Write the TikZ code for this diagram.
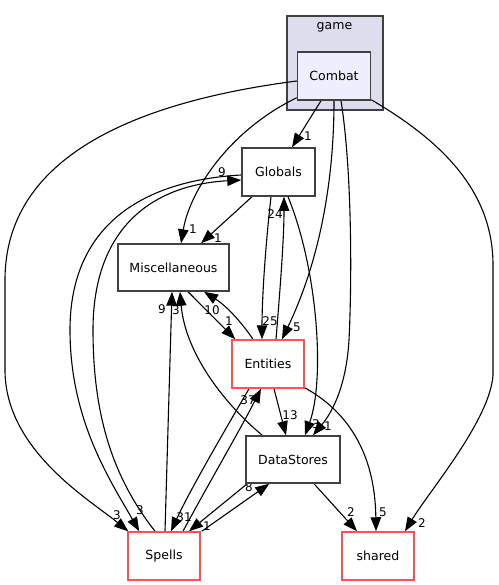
\documentclass[tikz,border=0pt]{standalone}
\usepackage{fontspec}
\setmainfont{DejaVu Sans}
\usetikzlibrary{arrows.meta,calc}
\pgfdeclarelayer{clusterlayer}
\pgfdeclarelayer{edgelayer}
\pgfsetlayers{clusterlayer,edgelayer,main}
\definecolor{nodegray}{HTML}{404040}
\definecolor{nodered}{HTML}{FF5050}
\definecolor{clusterfill}{HTML}{DDDDEE}
\definecolor{combatfill}{HTML}{EEEEFF}
\begin{document}
\begin{tikzpicture}[x=1bp,y=-1bp,
 dirbox/.style={draw=nodegray,line width=1.5bp,fill=white,minimum height=48bp,inner sep=0pt,font=\fontsize{12.6}{14}\selectfont},
 redbox/.style={dirbox,draw=nodered},
 dep/.style={draw=black,line width=1.1bp,-{Triangle[length=14bp,width=10.5bp]}},
 lbl/.style={inner sep=0pt,font=\fontsize{12}{13}\selectfont}
]
\useasboundingbox (0,0) rectangle (499,585);

% nodes
\node[dirbox,fill=combatfill,minimum width=73bp] (combat) at (334,76) {Combat};
\node[dirbox,minimum width=73bp] (globals) at (278.5,172) {Globals};
\node[dirbox,minimum width=111bp,minimum height=47bp] (misc) at (173.5,267.5) {Miscellaneous};
\node[redbox,minimum width=72bp] (entities) at (268,364) {Entities};
\node[dirbox,minimum width=94bp,minimum height=47bp] (datastores) at (293,459.5) {DataStores};
\node[redbox,minimum width=72bp] (spells) at (164,556) {Spells};
\node[redbox,minimum width=72bp] (shared) at (378,556) {shared};

\begin{pgfonlayer}{clusterlayer}
\node[draw=nodegray,fill=clusterfill,line width=1.3bp,minimum width=96bp,minimum height=94bp,inner sep=0pt] (game) at (335,63) {};
\node[font=\fontsize{12.6}{14}\selectfont,inner sep=0pt] (gametitle) at (334.5,27) {game};
\end{pgfonlayer}

\begin{pgfonlayer}{edgelayer}
% Combat -> Globals
\draw[dep] ($(combat.south)+(-13,0)$) -- ($(globals.north)+(13.5,0)$);
\node[lbl] (l1) at (308,136) {1};
% Combat -> Miscellaneous
\draw[dep] ($(combat.south west)+(0,-3)$) .. controls (230,130) and (190,190) .. ($(misc.north)+(7.5,0)$);
\node[lbl] (l2) at (193,229) {1};
% Combat -> Spells
\draw[dep] ($(combat.west)+(0,5)$) .. controls (150,100) and (5,150) .. (5,280) -- (5,370) .. controls (5,450) and (90,500) .. ($(spells.north west)+(1,0)$);
\node[lbl] (l3) at (117,515) {3};
% Combat -> Entities
\draw[dep] (combat.south) .. controls (334,180) and (320,260) .. ($(entities.north)+(14,0)$);
\node[lbl] (l4) at (297,327) {5};
% Combat -> DataStores
\draw[dep] ($(combat.south)+(7,0)$) .. controls (352,170) and (352,280) .. (349,340) .. controls (346,390) and (330,415) .. ($(datastores.north)+(20,0)$);
\node[lbl] (l5) at (328,426) {1};
% Combat -> shared
\draw[dep] ($(combat.south east)+(0,-1)$) .. controls (440,140) and (493,190) .. (493,265) -- (493,375) .. controls (490,420) and (430,490) .. ($(shared.north)+(27,0)$);
\node[lbl] (l6) at (422,523) {2};
% Globals -> Miscellaneous
\draw[dep] ($(globals.south)+(-26.5,0)$) -- ($(misc.north)+(27.5,0)$);
\node[lbl] (l7) at (218,238) {1};
% Globals -> Entities
\draw[dep] ($(globals.south)+(-7.5,0)$) .. controls (265,250) and (262,300) .. ($(entities.north)+(-6,0)$);
\node[lbl] (l8) at (270,321) {25};
% Entities -> Globals
\draw[dep] ($(entities.north)+(8,0)$) .. controls (280,290) and (284,240) .. ($(globals.south)+(5.5,0)$);
\node[lbl] (l9) at (275,214) {24};
% Globals -> DataStores
\draw[dep] ($(globals.south)+(9.5,0)$) .. controls (318,270) and (325,380) .. ($(datastores.north)+(12,0)$);
\node[lbl] (l10) at (316,424) {3};
% Miscellaneous -> Entities
\draw[dep] ($(misc.south)+(14.5,0)$) -- ($(entities.north west)+(4,0)$);
\node[lbl] (l11) at (229,321) {1};
% Entities -> Miscellaneous
\draw[dep] ($(entities.north)+(-15,0)$) .. controls (240,320) and (225,305) .. ($(misc.south)+(30.5,0)$);
\node[lbl] (l12) at (212,310) {10};
% Spells -> Miscellaneous
\draw[dep] ($(spells.north)+(1,0)$) -- ($(misc.south)+(-1.5,0)$);
\node[lbl] (l13) at (162,309) {9};
% DataStores -> Miscellaneous
\draw[dep] ($(datastores.north west)+(17,0)$) .. controls (220,400) and (185,350) .. ($(misc.south)+(6.5,0)$);
\node[lbl] (l14) at (176,310) {3};
% Entities -> DataStores
\draw[dep] ($(entities.south)+(6,0)$) -- ($(datastores.north)+(-7,0)$);
\node[lbl] (l15) at (290,415) {13};
% Entities -> shared
\draw[dep] ($(entities.south east)+(0,-1)$) .. controls (345,410) and (375,450) .. ($(shared.north)+(-2,0)$);
\node[lbl] (l16) at (383,512) {5};
% Entities -> Spells
\draw[dep] ($(entities.south)+(-19,0)$) .. controls (225,430) and (190,490) .. ($(spells.north)+(7,0)$);
\node[lbl] (l17) at (184,517) {31};
% Spells -> Entities
\draw[dep] ($(spells.north)+(19,0)$) .. controls (205,490) and (240,430) .. ($(entities.south)+(-7,0)$);
\node[lbl] (l18) at (248,400) {37};
% DataStores -> Spells
\draw[dep] ($(datastores.south west)+(2,0)$) -- ($(spells.north)+(25,0)$);
\node[lbl] (l19) at (207,526) {1};
% Spells -> DataStores
\draw[dep] ($(spells.north east)+(1,0)$) -- ($(datastores.south west)+(24,0)$);
\node[lbl] (l20) at (249,487) {8};
% DataStores -> shared
\draw[dep] ($(datastores.south)+(21,0)$) -- ($(shared.north)+(-21,0)$);
\node[lbl] (l21) at (351,512) {2};
% Globals -> Spells
\draw[dep] ($(globals.west)+(0,3)$) .. controls (150,180) and (70,220) .. (70,330) .. controls (70,420) and (110,480) .. ($(spells.north west)+(12,0)$);
\node[lbl] (l22) at (140,510) {3};
% Spells -> Globals
\draw[dep] ($(spells.north)+(-9,0)$) .. controls (115,480) and (93,420) .. (93,330) .. controls (93,230) and (150,185) .. ($(globals.west)+(0,8)$);
\node[lbl] (l23) at (222,172) {9};
\end{pgfonlayer}
\end{tikzpicture}
\end{document}
